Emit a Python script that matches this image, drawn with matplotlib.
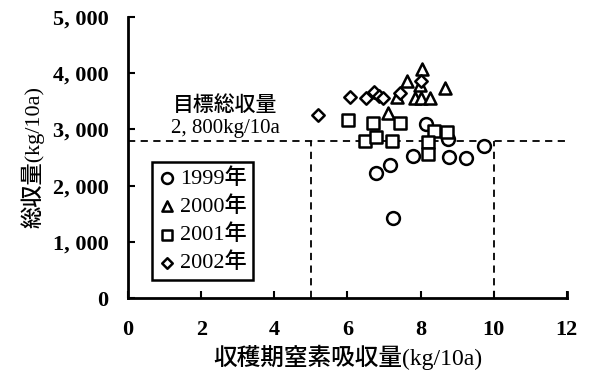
import matplotlib
matplotlib.use("Agg")
import matplotlib.pyplot as plt
from matplotlib.ticker import FuncFormatter

plt.rcParams['font.family'] = ['Liberation Serif', 'Noto Sans CJK JP', 'DejaVu Sans']

years = ["1999年", "2000年", "2001年", "2002年"]
x1999 = [8.16, 8.75, 7.80, 8.78, 9.24, 9.73, 7.16, 6.79, 7.25]
y1999 = [3096, 2824, 2527, 2503, 2486, 2705, 2367, 2230, 1429]
x2000 = [8.04, 7.63, 7.98, 8.66, 7.84, 8.02, 8.27, 7.35, 7.11]
y2000 = [4075, 3861, 3790, 3731, 3553, 3553, 3553, 3580, 3286]
x2001 = [6.02, 6.70, 7.45, 8.36, 8.71, 6.48, 6.79, 7.23, 8.21, 8.21]
y2001 = [3167, 3120, 3120, 2977, 2959, 2800, 2870, 2800, 2782, 2562]
x2002 = [5.20, 6.07, 6.52, 6.72, 6.85, 6.98, 7.45, 8.02]
y2002 = [3256, 3582, 3553, 3660, 3600, 3553, 3650, 3860]

target_y = 2800
target_x_lo, target_x_hi = 5, 10
xticks = [0, 2, 4, 6, 8, 10, 12]
yticks = [0, 1000, 2000, 3000, 4000, 5000]

fig = plt.figure(figsize=(5.96, 3.77), dpi=100)
ax = fig.add_axes([0.215, 0.2095, 0.736, 0.7455])

# target lines
dash = dict(color='black', lw=1.3, ls=(0, (4, 3)), zorder=1)
ax.plot([0, 12], [target_y, target_y], **dash)
ax.plot([target_x_lo, target_x_lo], [0, target_y], **dash)
ax.plot([target_x_hi, target_x_hi], [0, target_y], **dash)

mk = dict(facecolor='white', edgecolor='black', linewidths=1.8, zorder=3)
ax.scatter(x1999, y1999, marker='o', s=85, label=years[0], **mk)
ax.scatter(x2000, y2000, marker='^', s=75, label=years[1], **mk)
ax.scatter(x2001, y2001, marker='s', s=70, label=years[2], **mk)
ax.scatter(x2002, y2002, marker='D', s=40, label=years[3], **mk)

ax.set_xlim(0, 12)
ax.set_ylim(0, 5000)
ax.set_xticks(xticks)
ax.set_yticks(yticks)
ax.yaxis.set_major_formatter(FuncFormatter(lambda v, p: f"{int(v):,}".replace(",", ", ")))
ax.tick_params(direction='in', length=5, width=1.5, labelsize=16, pad=16)
ax.tick_params(axis='y', pad=14)
for lab in ax.get_xticklabels() + ax.get_yticklabels():
    lab.set_fontweight('bold')

ax.spines['top'].set_visible(False)
for s in ['left', 'bottom', 'right']:
    ax.spines[s].set_linewidth(2)
ax.spines['right'].set_bounds(0, 100)

ax.set_xlabel("収穫期窒素吸収量(kg/10a)", fontsize=17, fontweight='medium', labelpad=3)
ax.set_ylabel("総収量(kg/10a)", fontsize=16, fontweight='medium', labelpad=6)

ax.text(2.65, 3420, "目標総収量", ha='center', va='center', fontsize=15, fontweight='medium')
ax.text(2.65, 3020, "2, 800kg/10a", ha='center', va='center', fontsize=15, fontweight='medium')

leg = ax.legend(loc='lower left', bbox_to_anchor=(0.055, 0.064),
                prop={'size': 16, 'weight': 'medium'},
                frameon=True, fancybox=False, edgecolor='black', framealpha=1,
                handlelength=0.7, handletextpad=0.25, borderpad=0.3,
                labelspacing=0.33, borderaxespad=0, markerscale=0.85)
leg.get_frame().set_linewidth(1.8)

fig.savefig("out.png", dpi=100)
